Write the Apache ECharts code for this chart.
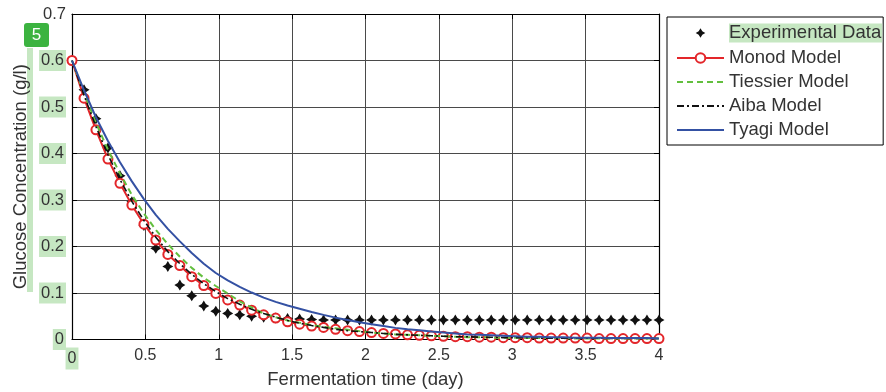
<!DOCTYPE html>
<html>
<head>
<meta charset="utf-8">
<script src="https://cdn.jsdelivr.net/npm/echarts@6/dist/echarts.min.js"></script>
<style>
html,body{margin:0;padding:0;background:#fff;}
#chart{width:886px;height:392px;}
</style>
</head>
<body>
<div id="chart"></div>
<script>
// Fermentation time (day)
const timeDays = [0.000,0.082,0.163,0.245,0.327,0.408,0.490,0.571,0.653,0.735,
  0.816,0.898,0.980,1.061,1.143,1.224,1.306,1.388,1.469,1.551,
  1.633,1.714,1.796,1.878,1.959,2.041,2.122,2.204,2.286,2.367,
  2.449,2.531,2.612,2.694,2.776,2.857,2.939,3.020,3.102,3.184,
  3.265,3.347,3.429,3.510,3.592,3.673,3.755,3.837,3.918,4.000];

const experimental = [0.600,0.537,0.475,0.412,0.352,0.296,0.245,0.196,0.157,0.117,
  0.094,0.072,0.061,0.056,0.053,0.050,0.048,0.046,0.045,0.044,
  0.043,0.042,0.042,0.042,0.042,0.042,0.042,0.042,0.042,0.042,
  0.042,0.042,0.042,0.042,0.042,0.042,0.042,0.042,0.042,0.042,
  0.042,0.042,0.042,0.042,0.042,0.042,0.042,0.042,0.042,0.042];

const monod = [0.600,0.519,0.451,0.388,0.336,0.289,0.248,0.214,0.183,0.159,
  0.135,0.116,0.099,0.085,0.074,0.063,0.053,0.046,0.038,0.033,
  0.029,0.026,0.022,0.019,0.017,0.015,0.013,0.012,0.010,0.009,
  0.008,0.007,0.006,0.006,0.005,0.005,0.004,0.004,0.004,0.003,
  0.003,0.003,0.003,0.003,0.002,0.002,0.002,0.002,0.002,0.002];

const tiessier = [0.600,0.530,0.466,0.408,0.357,0.311,0.271,0.236,0.205,0.178,
  0.154,0.133,0.115,0.099,0.082,0.069,0.056,0.048,0.041,0.036,
  0.031,0.027,0.024,0.021,0.018,0.015,0.013,0.011,0.010,0.009,
  0.008,0.007,0.006,0.005,0.005,0.004,0.004,0.004,0.003,0.003,
  0.003,0.003,0.002,0.002,0.002,0.002,0.002,0.002,0.002,0.002];

const aiba = [0.600,0.525,0.458,0.397,0.344,0.297,0.256,0.220,0.189,0.163,
  0.140,0.120,0.103,0.088,0.076,0.065,0.056,0.048,0.041,0.035,
  0.030,0.026,0.022,0.019,0.017,0.015,0.013,0.011,0.010,0.009,
  0.008,0.007,0.006,0.006,0.005,0.005,0.004,0.004,0.004,0.003,
  0.003,0.003,0.003,0.003,0.003,0.002,0.002,0.002,0.002,0.002];

const tyagi = [0.600,0.536,0.478,0.427,0.381,0.340,0.302,0.268,0.238,0.211,
  0.186,0.163,0.143,0.127,0.113,0.101,0.090,0.081,0.073,0.066,
  0.059,0.053,0.047,0.042,0.037,0.033,0.029,0.025,0.022,0.020,
  0.017,0.015,0.013,0.011,0.010,0.009,0.008,0.007,0.006,0.006,
  0.005,0.005,0.004,0.004,0.004,0.003,0.003,0.003,0.003,0.002];

const seriesNames = ['Experimental Data','Monod Model','Tiessier Model','Aiba Model','Tyagi Model'];
const xTitle = 'Fermentation time (day)';
const yTitle = 'Glucose Concentration (g/l)';
const badgeText = '5';

const pairs = arr => arr.map((v, i) => [timeDays[i], v]);
const FONT = 'Liberation Sans, Arial, sans-serif';
const HL = '#c6e7c2';
const TXT = '#333';

const chart = echarts.init(document.getElementById('chart'), null, {renderer: 'canvas'});

const axisCommon = {
  axisLine: {show: true, onZero: false, lineStyle: {color: '#000', width: 1.2}},
  axisTick: {show: true, inside: true, length: 5, lineStyle: {color: '#000'}}
};

const option = {
  backgroundColor: '#fff',
  animation: false,
  grid: {left: 72, right: 227, top: 14, bottom: 52.5, show: false, containLabel: false, outerBoundsMode: 'none'},
  xAxis: [{
    type: 'value', min: 0, max: 4, interval: 0.5, position: 'bottom',
    ...axisCommon,
    splitLine: {show: true, lineStyle: {color: '#4a4a4a', width: 1}},
    axisLabel: {
      margin: 8, color: TXT, fontFamily: FONT, fontSize: 16,
      formatter: v => v === 0 ? '{h|0}' : String(v),
      rich: {h: {backgroundColor: HL, padding: [3, 2, 3, 2], fontFamily: FONT, fontSize: 16, color: TXT}}
    },
    name: xTitle, nameLocation: 'middle', nameGap: 31, nameMoveOverlap: false,
    nameTextStyle: {fontFamily: FONT, fontSize: 18.5, color: TXT}
  }, {
    type: 'value', min: 0, max: 4, interval: 0.5, position: 'top',
    ...axisCommon, splitLine: {show: false}, axisLabel: {show: false}
  }],
  yAxis: [{
    type: 'value', min: 0, max: 0.7, interval: 0.1, position: 'left',
    ...axisCommon,
    splitLine: {show: true, lineStyle: {color: '#4a4a4a', width: 1}},
    axisLabel: {
      margin: 6, color: TXT, fontFamily: FONT, fontSize: 16.5,
      formatter: v => {
        const s = String(Math.round(v * 10) / 10);
        return Math.abs(v - 0.7) < 1e-9 ? s : '{h|' + s + '}';
      },
      rich: {h: {backgroundColor: HL, padding: [2, 2, 2, 2], fontFamily: FONT, fontSize: 16.5, color: TXT}}
    },
    name: yTitle, nameLocation: 'middle', nameGap: 42, nameRotate: 90, nameMoveOverlap: false,
    nameTextStyle: {fontFamily: FONT, fontSize: 18.5, color: TXT}
  }, {
    type: 'value', min: 0, max: 0.7, interval: 0.1, position: 'right',
    ...axisCommon, splitLine: {show: false}, axisLabel: {show: false}
  }],
  legend: {
    orient: 'vertical', left: 667, top: 17,
    backgroundColor: '#fff', borderColor: '#000', borderWidth: 1,
    padding: [5, 1, 5, 9],
    itemWidth: 47, itemHeight: 12, itemGap: 4,
    textStyle: {fontFamily: FONT, fontSize: 18.5, color: TXT, lineHeight: 20,
      rich: {hl: {backgroundColor: HL, fontFamily: FONT, fontSize: 18.5, color: TXT, lineHeight: 22, padding: [0, 1, 0, 0]}}},
    formatter: n => n === seriesNames[0] ? '{hl|' + n + '}' : n,
    data: [
      {name: seriesNames[0], lineStyle: {width: 0, opacity: 0}},
      seriesNames[1],
      {name: seriesNames[2], itemStyle: {opacity: 0}},
      {name: seriesNames[3], itemStyle: {opacity: 0}},
      {name: seriesNames[4], itemStyle: {opacity: 0}}
    ]
  },
  graphic: [
    {type: 'rect', left: 27, top: 48, shape: {width: 6, height: 244}, style: {fill: HL}, z: 0},
    {type: 'group', left: 24, top: 23, z: 100, children: [
      {type: 'rect', shape: {x: 0, y: 0, width: 25, height: 24, r: 3}, style: {fill: '#3cb340'}},
      {type: 'text', x: 12.5, y: 12.5, style: {text: badgeText, fill: '#fff', font: '17px ' + FONT, align: 'center', verticalAlign: 'middle'}}
    ]}
  ],
  series: [
    {
      name: seriesNames[0], type: 'line', data: pairs(experimental),
      symbol: 'path://M0,-10 L3.8,-3.8 L10,0 L3.8,3.8 L0,10 L-3.8,3.8 L-10,0 L-3.8,-3.8 Z',
      symbolSize: 11, showSymbol: true,
      lineStyle: {width: 0, opacity: 0},
      itemStyle: {color: '#111', borderWidth: 0}, z: 2
    },
    {
      name: seriesNames[1], type: 'line', data: pairs(monod),
      symbol: 'emptyCircle', symbolSize: 9, showSymbol: true,
      lineStyle: {color: '#e3262a', width: 2},
      itemStyle: {color: '#e3262a', borderColor: '#e3262a', borderWidth: 1.6}, z: 3
    },
    {
      name: seriesNames[2], type: 'line', data: pairs(tiessier), symbol: 'none',
      lineStyle: {color: '#63bf3f', width: 2, type: [6, 4]},
      itemStyle: {color: '#63bf3f'}, z: 4
    },
    {
      name: seriesNames[3], type: 'line', data: pairs(aiba), symbol: 'none',
      lineStyle: {color: '#111', width: 1.6, type: [7, 3, 2, 3]},
      itemStyle: {color: '#111'}, z: 5
    },
    {
      name: seriesNames[4], type: 'line', data: pairs(tyagi), symbol: 'none',
      lineStyle: {color: '#3451a3', width: 2},
      itemStyle: {color: '#3451a3'}, z: 6
    }
  ]
};
chart.setOption(option);
</script>
</body>
</html>
